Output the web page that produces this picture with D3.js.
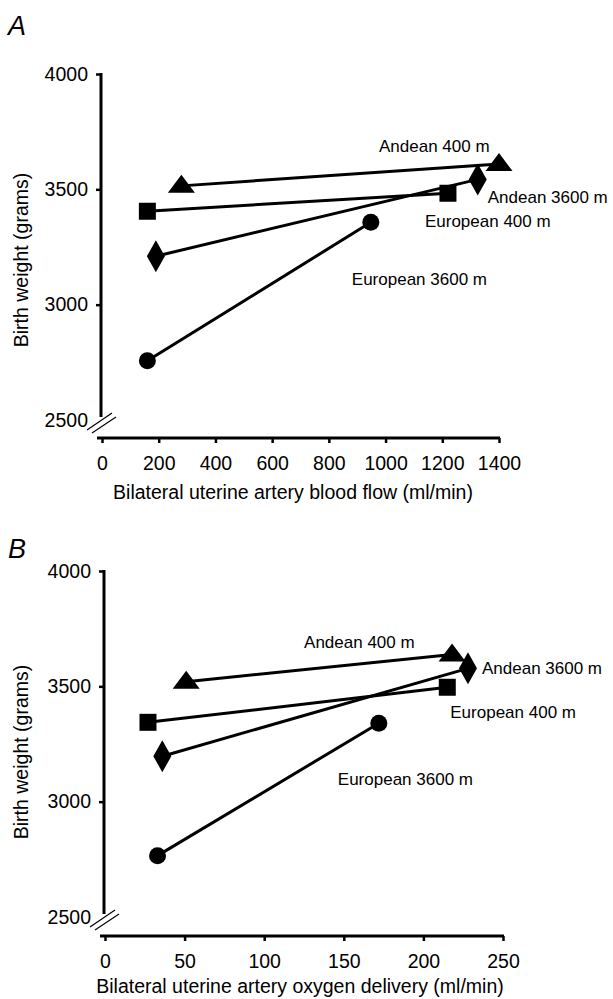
<!DOCTYPE html>
<html>
<head>
<meta charset="utf-8">
<script src="https://cdn.jsdelivr.net/npm/d3@7"></script>
<style>
  body { margin: 0; background: #fff; }
  svg { display: block; font-family: "Liberation Sans", Arial, Helvetica, sans-serif; }
</style>
</head>
<body>
<div id="chart"></div>
<script>
// group names, in marker order: triangle, diamond, square, circle
const groups = ["Andean 400 m", "Andean 3600 m", "European 400 m", "European 3600 m"];
const markers = ["triangle", "diamond", "square", "circle"];

// panel A: blood flow (ml/min) -> birth weight (g), [start, end] per group
const flowX = [[280, 1400], [190, 1325], [160, 1220], [160, 948]];
const flowY = [[3515, 3610], [3210, 3543], [3405, 3483], [2757, 3357]];

// panel B: O2 delivery (ml/min) -> birth weight (g)
const o2X = [[51, 218], [36, 228], [27, 215], [33, 172]];
const o2Y = [[3520, 3638], [3197, 3578], [3344, 3496], [2766, 3340]];

const flowTicks = [0, 200, 400, 600, 800, 1000, 1200, 1400];
const o2Ticks = [0, 50, 100, 150, 200, 250];
const weightTicks = [2500, 3000, 3500, 4000];

const W = 613, H = 999;
const svg = d3.select('#chart').append('svg')
    .attr('width', W).attr('height', H);

// marker shapes (w x h in px)
function markerPath(type) {
  if (type === 'triangle') return 'M0,-11L13.5,7L-13.5,7Z';
  if (type === 'diamond') return 'M0,-16L9,0L0,16L-9,0Z';
  if (type === 'square') return 'M-8.5,-8.5H8.5V8.5H-8.5Z';
  return d3.arc()({innerRadius: 0, outerRadius: 8.5, startAngle: 0, endAngle: 2 * Math.PI});
}

function drawPanel(cfg) {
  const g = svg.append('g');
  const x = d3.scaleLinear().domain(cfg.xDomain).range(cfg.xRange);
  const y = d3.scaleLinear().domain([2500, 4000]).range(cfg.yRange);
  const fmt = d3.format('d');

  // panel letter
  g.append('text')
    .attr('x', 8).attr('y', cfg.letterY)
    .style('font-size', '27px').style('font-style', 'italic')
    .text(cfg.letter);

  // y axis
  const yAxis = g.append('g')
    .attr('transform', `translate(${cfg.xRange[0] - 1},0)`)
    .call(d3.axisLeft(y).tickValues(weightTicks).tickFormat(fmt)
      .tickSize(5).tickSizeOuter(0).tickPadding(8));
  yAxis.select('.domain').remove();
  yAxis.selectAll('.tick line').attr('stroke-width', 2.5)
    .filter(d => d === 2500).remove();
  yAxis.selectAll('.tick text').style('font-size', '19.5px').attr('fill', '#000');
  g.append('line')
    .attr('x1', cfg.xRange[0] - 1).attr('x2', cfg.xRange[0] - 1)
    .attr('y1', y(4000) - 1).attr('y2', y(2500) - 3)
    .attr('stroke', '#000').attr('stroke-width', 3);

  // axis break marks
  const bx = cfg.xRange[0] - 1, by = y(2500);
  [[-14, 10, 11, -7], [-9, 13, 15, -3]].forEach(([a, b, c, d]) => {
    g.append('line')
      .attr('x1', bx + a).attr('y1', by + b)
      .attr('x2', bx + c).attr('y2', by + d)
      .attr('stroke', '#000').attr('stroke-width', 1.2);
  });

  // x axis
  const xAxis = g.append('g')
    .attr('transform', `translate(0,${cfg.axisY})`)
    .call(d3.axisBottom(x).tickValues(cfg.ticks).tickFormat(fmt)
      .tickSize(5).tickSizeOuter(0).tickPadding(13));
  xAxis.select('.domain').remove();
  xAxis.selectAll('.tick line').attr('stroke-width', 2.5);
  xAxis.selectAll('.tick text').style('font-size', '19.5px').attr('fill', '#000');
  g.append('line')
    .attr('x1', cfg.xRange[0] - 5).attr('x2', cfg.xRange[1] + 1)
    .attr('y1', cfg.axisY).attr('y2', cfg.axisY)
    .attr('stroke', '#000').attr('stroke-width', 3);

  // axis titles
  g.append('text')
    .attr('x', cfg.titleX).attr('y', cfg.axisY + cfg.titleDy)
    .attr('text-anchor', 'middle').style('font-size', '19.5px')
    .text(cfg.xTitle);
  g.append('text')
    .attr('transform', `translate(28,${cfg.yTitleY}) rotate(-90)`)
    .attr('text-anchor', 'middle').style('font-size', '19.5px')
    .text('Birth weight (grams)');

  // series
  groups.forEach((name, i) => {
    const pts = cfg.xs[i].map((v, j) => [x(v), y(cfg.ys[i][j])]);
    g.append('line')
      .attr('x1', pts[0][0]).attr('y1', pts[0][1])
      .attr('x2', pts[1][0]).attr('y2', pts[1][1])
      .attr('stroke', '#000').attr('stroke-width', 3);
    pts.forEach(p => {
      g.append('path')
        .attr('d', markerPath(markers[i]))
        .attr('transform', `translate(${p[0]},${p[1]})`)
        .attr('fill', '#000');
    });
    const off = cfg.labelOffsets[i];
    g.append('text')
      .attr('x', pts[1][0] + off[0]).attr('y', pts[1][1] + off[1])
      .attr('dy', '0.35em').style('font-size', '17px')
      .text(name);
  });
}

drawPanel({
  letter: 'A', letterY: 35,
  xDomain: [0, 1400], xRange: [102, 499], yRange: [420, 74], axisY: 438,
  ticks: flowTicks, xs: flowX, ys: flowY,
  xTitle: 'Bilateral uterine artery blood flow (ml/min)',
  titleX: 293, titleDy: 61, yTitleY: 260,
  labelOffsets: [[-120, -18], [10, 18], [-23, 28], [-19, 57]]
});

drawPanel({
  letter: 'B', letterY: 558,
  xDomain: [0, 250], xRange: [105, 503], yRange: [917, 571], axisY: 936,
  ticks: o2Ticks, xs: o2X, ys: o2Y,
  xTitle: 'Bilateral uterine artery oxygen delivery (ml/min)',
  titleX: 300, titleDy: 57, yTitleY: 752,
  labelOffsets: [[-148, -12], [14, 0], [3, 25], [-41, 56]]
});
</script>
</body>
</html>
